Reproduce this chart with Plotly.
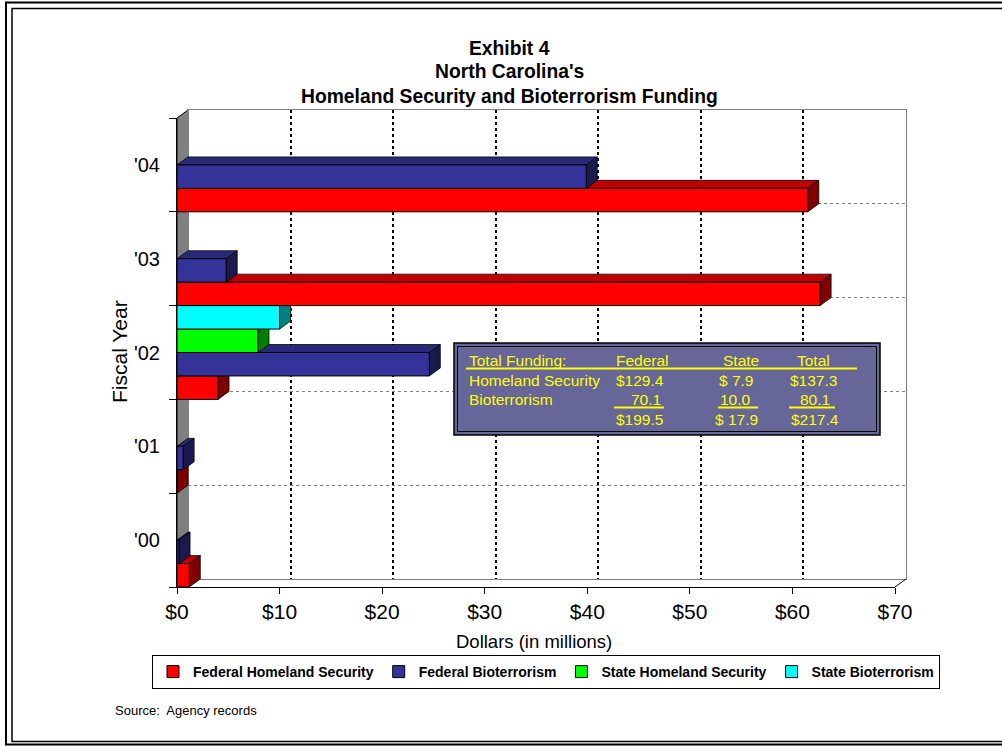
import plotly.graph_objects as go

# ---------------- data ----------------
years = ["'00", "'01", "'02", "'03", "'04"]
fed_hs = [1.2, 0.0, 4.0, 62.7, 61.5]
fed_bio = [0.2, 0.6, 24.6, 4.8, 39.9]
state_hs = [None, None, 7.9, None, None]
state_bio = [None, None, 10.0, None, None]
series_names = ["Federal Homeland Security", "Federal Bioterrorism",
                "State Homeland Security", "State Bioterrorism"]
x_ticks = [0, 10, 20, 30, 40, 50, 60, 70]
x_ticktext = ["$0", "$10", "$20", "$30", "$40", "$50", "$60", "$70"]

table_header = ["Total Funding:", "Federal", "State", "Total"]
table_hs = ["Homeland Security", "$129.4", "$ 7.9", "$137.3"]
table_bio = ["Bioterrorism", "70.1", "10.0", "80.1"]
table_tot = ["", "$199.5", "$ 17.9", "$217.4"]

# ---------------- styling ----------------
W, H = 1002, 746
front_col = ["#FF0000", "#333399", "#00FF00", "#00FFFF"]
top_col = ["#C00000", "#29297A", "#00C000", "#00C0C0"]
side_col = ["#800000", "#1A1A4D", "#008000", "#008080"]
offsets = [-0.375, -0.125, 0.125, 0.375]
BW = 0.25
FONT = "Arial, Liberation Sans, sans-serif"

def px(x):
    return x / W

def py(y):
    return 1 - y / H

# front plane (pixel extents)
FX0, FX1, FY0, FY1 = 177, 895, 118, 587
DPX, DPY = 11, 8  # depth in pixels
XR = [0, 70]
YR = [-0.5, 4.5]
DX = DPX * (XR[1] - XR[0]) / (FX1 - FX0)
DY = DPY * (YR[1] - YR[0]) / (FY1 - FY0)

fig = go.Figure()

# dummy trace for back wall axes
fig.add_trace(go.Scatter(x=[None], y=[None], xaxis="x", yaxis="y",
                         showlegend=False, hoverinfo="skip"))

all_series = [fed_hs, fed_bio, state_hs, state_bio]
for k, vals in enumerate(all_series):
    fig.add_trace(go.Bar(
        x=vals, y=[i + offsets[k] for i in range(len(years))],
        orientation="h", width=BW, name=series_names[k],
        marker=dict(color=front_col[k], line=dict(color="black", width=1)),
        xaxis="x2", yaxis="y2"))

shapes = []
# 3D faces of bars
for i in range(len(years)):
    for k, vals in enumerate(all_series):
        v = vals[i]
        if v is None:
            continue
        c = i + offsets[k]
        b, t = c - BW / 2, c + BW / 2
        shapes.append(dict(type="path", xref="x2", yref="y2", layer="between",
                           path=f"M 0,{t} L {v},{t} L {v+DX},{t+DY} L {DX},{t+DY} Z",
                           fillcolor=top_col[k], line=dict(color="black", width=0.75)))
        shapes.append(dict(type="path", xref="x2", yref="y2", layer="between",
                           path=f"M {v},{b} L {v+DX},{b+DY} L {v+DX},{t+DY} L {v},{t} Z",
                           fillcolor=side_col[k], line=dict(color="black", width=0.75)))

# left wall
shapes.append(dict(type="path", xref="paper", yref="paper", layer="below",
                   path=f"M {px(FX0)},{py(FY1)} L {px(FX0)},{py(FY0)} L {px(FX0+DPX)},{py(FY0-DPY)} "
                        f"L {px(FX0+DPX)},{py(FY1-DPY)} Z",
                   fillcolor="#808080", line=dict(color="black", width=1)))
# floor right edge
shapes.append(dict(type="line", xref="paper", yref="paper", layer="above",
                   x0=px(FX1), y0=py(FY1), x1=px(FX1+DPX), y1=py(FY1-DPY),
                   line=dict(color="black", width=1)))
# outer frame
shapes.append(dict(type="rect", xref="paper", yref="paper", layer="above",
                   x0=px(6), y0=py(744.5), x1=px(1012), y1=py(2.5),
                   line=dict(color="black", width=2)))
shapes.append(dict(type="rect", xref="paper", yref="paper", layer="above",
                   x0=px(12), y0=py(741.5), x1=px(1012), y1=py(8.5),
                   line=dict(color="black", width=1.5)))
# table box
shapes.append(dict(type="rect", xref="paper", yref="paper", layer="above",
                   x0=px(454), y0=py(435), x1=px(880), y1=py(343),
                   fillcolor="#666699", line=dict(color="black", width=1.5)))
shapes.append(dict(type="rect", xref="paper", yref="paper", layer="above",
                   x0=px(457.5), y0=py(431.5), x1=px(876.5), y1=py(346.5),
                   line=dict(color="black", width=1)))
# table underlines
for (x0, x1, yy) in [(466, 857, 368.5), (614, 664, 407.5), (718, 758, 407.5), (789, 835, 407.5)]:
    shapes.append(dict(type="line", xref="paper", yref="paper", layer="above",
                       x0=px(x0), x1=px(x1), y0=py(yy), y1=py(yy),
                       line=dict(color="#FFFF00", width=2)))

ann = []
for txt, yy in [("<b>Exhibit 4</b>", 48), ("<b>North Carolina's</b>", 72),
                ("<b>Homeland Security and Bioterrorism Funding</b>", 97)]:
    ann.append(dict(text=txt, x=px(509), y=py(yy), xref="paper", yref="paper",
                    xanchor="center", yanchor="middle", showarrow=False,
                    font=dict(family=FONT, size=19.3, color="black")))
ann.append(dict(text="Fiscal Year", x=px(119), y=py(352), xref="paper", yref="paper",
                textangle=-90, xanchor="center", yanchor="middle", showarrow=False,
                font=dict(family=FONT, size=21, color="black")))
ann.append(dict(text="Dollars (in millions)", x=px(534), y=py(641), xref="paper", yref="paper",
                xanchor="center", yanchor="middle", showarrow=False,
                font=dict(family=FONT, size=18.5, color="black")))
ann.append(dict(text="Source:  Agency records", x=px(113), y=py(710), xref="paper", yref="paper",
                xanchor="left", yanchor="middle", showarrow=False,
                font=dict(family=FONT, size=13, color="black")))

# table text
col_x = [467, 614, 721, 795]
rows = [(table_header, 360), (table_hs, 380.5), (table_bio, 399.5), (table_tot, 419)]
bio_right = [None, 663, 753, 832]
tot_x = [None, 614, 713, 789]
hs_x = [467, 614, 717, 788]
for r, (row, yy) in enumerate(rows):
    for j, txt in enumerate(row):
        if not txt:
            continue
        xa = "left"
        if r == 0:
            xx = col_x[j]
        elif r == 1:
            xx = hs_x[j]
        elif r == 2:
            if j == 0:
                xx = 467
            else:
                xx, xa = bio_right[j], "right"
        else:
            xx = tot_x[j]
        ann.append(dict(text=txt, x=px(xx), y=py(yy), xref="paper", yref="paper",
                        xanchor=xa, yanchor="middle", showarrow=False,
                        font=dict(family=FONT, size=15.5, color="#FFFF00")))

fig.update_layout(
    width=W, height=H, margin=dict(l=0, r=0, t=0, b=0, autoexpand=False),
    paper_bgcolor="white", plot_bgcolor="rgba(0,0,0,0)",
    barmode="overlay", showlegend=True,
    font=dict(family=FONT, color="black"),
    # back wall axes
    xaxis=dict(domain=[px(FX0 + DPX), px(FX1 + DPX)], range=XR, anchor="y",
               tickvals=[10, 20, 30, 40, 50, 60, 70], showticklabels=False, ticks="",
               showgrid=True, gridcolor="black", griddash="dot", gridwidth=1.5,
               zeroline=False, showline=True, mirror=True, linecolor="#808080", linewidth=1),
    yaxis=dict(domain=[py(FY1 - DPY), py(FY0 - DPY)], range=YR, anchor="x",
               tickvals=[0.5, 1.5, 2.5, 3.5], showticklabels=False, ticks="",
               showgrid=True, gridcolor="#808080", griddash="dot", gridwidth=1,
               zeroline=False, showline=True, mirror=True, linecolor="#808080", linewidth=1),
    # front axes
    xaxis2=dict(domain=[px(FX0), px(FX1)], range=XR, anchor="y2",
                tickvals=x_ticks, ticktext=x_ticktext, ticks="outside", ticklen=6,
                tickcolor="black", showgrid=False, zeroline=False,
                showline=True, linecolor="black", linewidth=1,
                tickfont=dict(family=FONT, size=21, color="black")),
    yaxis2=dict(domain=[py(FY1), py(FY0)], range=YR, anchor="x2",
                tickvals=list(range(len(years))), ticktext=years, ticks="",
                minor=dict(tickvals=[-0.5, 0.5, 1.5, 2.5, 3.5, 4.5], ticks="outside",
                           ticklen=7, tickcolor="black"),
                ticklabelstandoff=12,
                showgrid=False, zeroline=False,
                showline=True, linecolor="black", linewidth=1,
                tickfont=dict(family=FONT, size=20, color="black")),
    legend=dict(orientation="h", x=px(546), xanchor="center", y=py(655), yanchor="top",
                bordercolor="black", borderwidth=1, bgcolor="white",
                font=dict(family=FONT, size=14, color="black", weight="bold"),
                itemclick=False),
    shapes=shapes, annotations=ann,
)

fig.write_html("out.html")
